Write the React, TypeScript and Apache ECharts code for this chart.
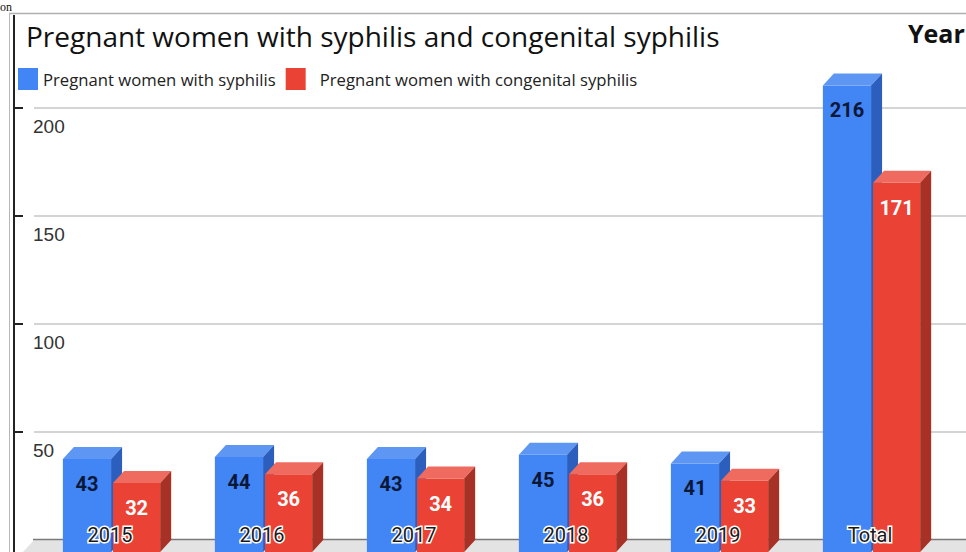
import React, { useEffect, useRef } from "react";
import * as echarts from "echarts";

const categories = ["2015", "2016", "2017", "2018", "2019", "Total"];
const syphilisValues = [43, 44, 43, 45, 41, 216];
const congenitalValues = [32, 36, 34, 36, 33, 171];
const seriesNames = [
  "Pregnant women with syphilis",
  "Pregnant women with congenital syphilis",
];
const yTicks = { min: 0, max: 250, interval: 50 };

const DX = 11;
const DY = 12;

function makeRender(
  fl: number,
  fr: number,
  front: string,
  topc: string,
  side: string,
  labelColor: string
) {
  return (params: any, api: any) => {
    const cat = api.value(0);
    const val = api.value(1);
    const top = api.coord([cat, val]);
    const base = api.coord([cat, 0]);
    const bw = api.size([1, 0])[0];
    const x0 = top[0] + fl * bw;
    const x1 = top[0] + fr * bw;
    const ft = top[1] + DY;
    const fb = base[1] + DY;
    return {
      type: "group",
      children: [
        {
          type: "rect",
          shape: { x: x0, y: ft, width: x1 - x0, height: fb - ft },
          style: { fill: front },
        },
        {
          type: "polygon",
          shape: {
            points: [
              [x0, ft],
              [x0 + DX, ft - DY],
              [x1 + DX, ft - DY],
              [x1, ft],
            ],
          },
          style: { fill: topc },
        },
        {
          type: "polygon",
          shape: {
            points: [
              [x1, ft],
              [x1 + DX, ft - DY],
              [x1 + DX, fb - DY],
              [x1, fb],
            ],
          },
          style: { fill: side },
        },
        {
          type: "text",
          x: (x0 + x1) / 2,
          y: top[1] + 37,
          style: {
            text: String(val),
            fill: labelColor,
            font: "bold 20px Roboto",
            align: "center",
            verticalAlign: "middle",
          },
        },
      ],
    };
  };
}

export default function App() {
  const ref = useRef<HTMLDivElement>(null);
  useEffect(() => {
    if (!ref.current) return;
    const chart = echarts.init(ref.current, null, { renderer: "svg" });
    chart.setOption({
      animation: false,
      backgroundColor: "#ffffff",
      title: {
        text: "Pregnant women with syphilis and congenital syphilis",
        left: 26,
        top: 20,
        padding: 0,
        textStyle: {
          fontFamily: "Open Sans",
          fontSize: 28,
          lineHeight: 32,
          fontWeight: "normal",
          color: "#111111",
        },
      },
      legend: {
        left: 18,
        top: 68,
        padding: 0,
        itemWidth: 20,
        itemHeight: 22,
        itemGap: 10,
        icon: "rect",
        textStyle: { fontFamily: "Open Sans", fontSize: 16.7, color: "#222222" },
        data: [
          { name: seriesNames[0] },
          { name: seriesNames[1], textStyle: { padding: [0, 0, 0, 9] } },
        ],
      },
      grid: { left: 34, right: 20, top: 0, bottom: 12 },
      xAxis: {
        type: "category",
        data: categories,
        z: 10,
        axisLine: { show: false },
        axisTick: { show: false },
        splitLine: { show: false },
        axisLabel: {
          inside: true,
          margin: 5,
          verticalAlign: "middle",
          fontFamily: "Roboto",
          fontSize: 20,
          color: "#1a1a1a",
          textBorderColor: "#ffffff",
          textBorderWidth: 3,
        },
      },
      yAxis: {
        type: "value",
        min: yTicks.min,
        max: yTicks.max,
        interval: yTicks.interval,
        offset: 20,
        axisLine: { show: false },
        axisTick: {
          show: true,
          inside: true,
          length: 9,
          lineStyle: { color: "#222222", width: 2 },
        },
        axisLabel: {
          inside: true,
          margin: 19,
          align: "left",
          verticalAlign: "top",
          padding: [9, 0, 0, 0],
          fontFamily: "Liberation Sans",
          fontSize: 19,
          color: "#333333",
          showMaxLabel: false,
          showMinLabel: false,
        },
        splitLine: {
          show: true,
          showMaxLine: false,
          showMinLine: false,
          lineStyle: { color: "#d4d4d4", width: 2 },
        },
      },
      graphic: [
        {
          type: "text",
          x: 0,
          y: 13,
          style: {
            text: "on",
            font: "12px 'Liberation Serif'",
            fill: "#111",
            verticalAlign: "bottom",
          },
        },
        {
          type: "line",
          shape: { x1: 9, y1: 13.5, x2: 966, y2: 13.5 },
          style: { stroke: "#b0b0b0", lineWidth: 1.5 },
        },
        {
          type: "line",
          shape: { x1: 9.5, y1: 13, x2: 9.5, y2: 552 },
          style: { stroke: "#b8b8b8", lineWidth: 1 },
        },
        {
          type: "line",
          shape: { x1: 14, y1: 15, x2: 14, y2: 552 },
          style: { stroke: "#222222", lineWidth: 2 },
        },
        {
          type: "line",
          shape: { x1: 946, y1: 108, x2: 966, y2: 108 },
          style: { stroke: "#d4d4d4", lineWidth: 2 },
        },
        {
          type: "line",
          shape: { x1: 946, y1: 216, x2: 966, y2: 216 },
          style: { stroke: "#d4d4d4", lineWidth: 2 },
        },
        {
          type: "line",
          shape: { x1: 946, y1: 324, x2: 966, y2: 324 },
          style: { stroke: "#d4d4d4", lineWidth: 2 },
        },
        {
          type: "line",
          shape: { x1: 946, y1: 432, x2: 966, y2: 432 },
          style: { stroke: "#d4d4d4", lineWidth: 2 },
        },
        {
          type: "polygon",
          shape: {
            points: [
              [34, 540],
              [966, 540],
              [966, 553],
              [22, 553],
            ],
          },
          style: { fill: "#e3e3e3" },
        },
        {
          type: "line",
          shape: { x1: 33, y1: 539.5, x2: 966, y2: 539.5 },
          style: { stroke: "#7a7a7a", lineWidth: 1.5 },
        },
        {
          type: "text",
          x: 908,
          y: 33,
          style: {
            text: "Year",
            font: "bold 25px 'Open Sans'",
            fill: "#111",
            verticalAlign: "middle",
          },
        },
      ],
      series: [
        {
          name: seriesNames[0],
          type: "custom",
          itemStyle: { color: "#4285f4" },
          encode: { x: 0, y: 1 },
          data: syphilisValues.map((v, i) => [i, v]),
          renderItem: makeRender(
            -0.31,
            0.007,
            "#4285f4",
            "#5e97f3",
            "#2c5fbd",
            "#0c1838"
          ),
        },
        {
          name: seriesNames[1],
          type: "custom",
          itemStyle: { color: "#ea4335" },
          encode: { x: 0, y: 1 },
          data: congenitalValues.map((v, i) => [i, v]),
          renderItem: makeRender(
            0.02,
            0.33,
            "#ea4335",
            "#ef6b5f",
            "#a83125",
            "#ffffff"
          ),
        },
      ],
    });
    return () => chart.dispose();
  }, []);
  return (
    <div
      ref={ref}
      style={{ position: "fixed", left: 0, top: 0, width: 966, height: 552 }}
    />
  );
}
